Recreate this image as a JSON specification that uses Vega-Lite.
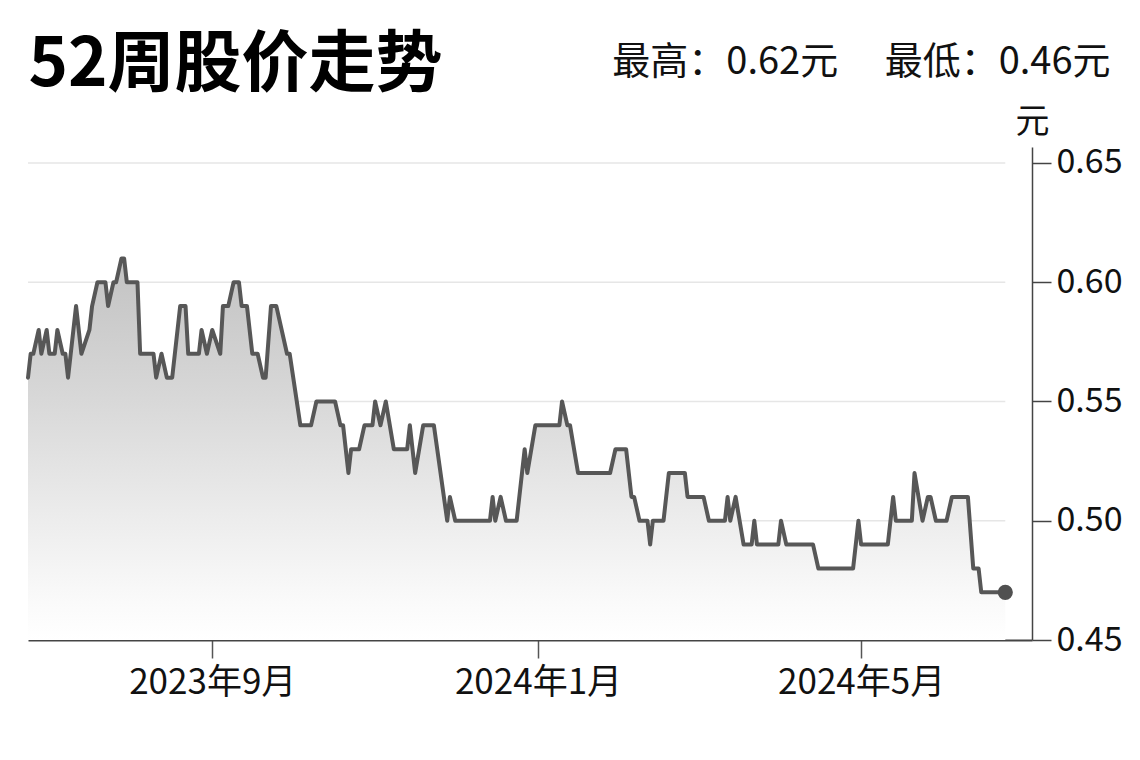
{
  "$schema": "https://vega.github.io/schema/vega-lite/v6.json",
  "width": 1004,
  "height": 493,
  "autosize": {"type": "none"},
  "padding": {"left": 28, "top": 147, "right": 108, "bottom": 120},
  "background": "#ffffff",
  "config": {"view": {"stroke": null}, "font": "Noto Sans CJK SC"},
  "data": {"values": [
    {"date": "2023-06-24", "price": 0.56},
    {"date": "2023-06-25", "price": 0.57},
    {"date": "2023-06-26", "price": 0.57},
    {"date": "2023-06-28", "price": 0.58},
    {"date": "2023-06-29", "price": 0.57},
    {"date": "2023-07-01", "price": 0.58},
    {"date": "2023-07-02", "price": 0.57},
    {"date": "2023-07-04", "price": 0.57},
    {"date": "2023-07-05", "price": 0.58},
    {"date": "2023-07-07", "price": 0.57},
    {"date": "2023-07-08", "price": 0.57},
    {"date": "2023-07-09", "price": 0.56},
    {"date": "2023-07-12", "price": 0.59},
    {"date": "2023-07-14", "price": 0.57},
    {"date": "2023-07-17", "price": 0.58},
    {"date": "2023-07-18", "price": 0.59},
    {"date": "2023-07-20", "price": 0.60},
    {"date": "2023-07-23", "price": 0.60},
    {"date": "2023-07-24", "price": 0.59},
    {"date": "2023-07-26", "price": 0.60},
    {"date": "2023-07-27", "price": 0.60},
    {"date": "2023-07-29", "price": 0.61},
    {"date": "2023-07-30", "price": 0.61},
    {"date": "2023-07-31", "price": 0.60},
    {"date": "2023-08-04", "price": 0.60},
    {"date": "2023-08-05", "price": 0.57},
    {"date": "2023-08-10", "price": 0.57},
    {"date": "2023-08-11", "price": 0.56},
    {"date": "2023-08-13", "price": 0.57},
    {"date": "2023-08-15", "price": 0.56},
    {"date": "2023-08-17", "price": 0.56},
    {"date": "2023-08-20", "price": 0.59},
    {"date": "2023-08-22", "price": 0.59},
    {"date": "2023-08-23", "price": 0.57},
    {"date": "2023-08-27", "price": 0.57},
    {"date": "2023-08-28", "price": 0.58},
    {"date": "2023-08-30", "price": 0.57},
    {"date": "2023-09-01", "price": 0.58},
    {"date": "2023-09-04", "price": 0.57},
    {"date": "2023-09-05", "price": 0.59},
    {"date": "2023-09-07", "price": 0.59},
    {"date": "2023-09-09", "price": 0.60},
    {"date": "2023-09-11", "price": 0.60},
    {"date": "2023-09-12", "price": 0.59},
    {"date": "2023-09-14", "price": 0.59},
    {"date": "2023-09-16", "price": 0.57},
    {"date": "2023-09-18", "price": 0.57},
    {"date": "2023-09-20", "price": 0.56},
    {"date": "2023-09-21", "price": 0.56},
    {"date": "2023-09-23", "price": 0.59},
    {"date": "2023-09-25", "price": 0.59},
    {"date": "2023-09-29", "price": 0.57},
    {"date": "2023-09-30", "price": 0.57},
    {"date": "2023-10-04", "price": 0.54},
    {"date": "2023-10-08", "price": 0.54},
    {"date": "2023-10-10", "price": 0.55},
    {"date": "2023-10-17", "price": 0.55},
    {"date": "2023-10-19", "price": 0.54},
    {"date": "2023-10-20", "price": 0.54},
    {"date": "2023-10-22", "price": 0.52},
    {"date": "2023-10-23", "price": 0.53},
    {"date": "2023-10-26", "price": 0.53},
    {"date": "2023-10-28", "price": 0.54},
    {"date": "2023-10-31", "price": 0.54},
    {"date": "2023-11-01", "price": 0.55},
    {"date": "2023-11-03", "price": 0.54},
    {"date": "2023-11-05", "price": 0.55},
    {"date": "2023-11-08", "price": 0.53},
    {"date": "2023-11-13", "price": 0.53},
    {"date": "2023-11-14", "price": 0.54},
    {"date": "2023-11-16", "price": 0.52},
    {"date": "2023-11-19", "price": 0.54},
    {"date": "2023-11-23", "price": 0.54},
    {"date": "2023-11-28", "price": 0.50},
    {"date": "2023-11-29", "price": 0.51},
    {"date": "2023-12-01", "price": 0.50},
    {"date": "2023-12-14", "price": 0.50},
    {"date": "2023-12-15", "price": 0.51},
    {"date": "2023-12-16", "price": 0.50},
    {"date": "2023-12-18", "price": 0.51},
    {"date": "2023-12-20", "price": 0.50},
    {"date": "2023-12-24", "price": 0.50},
    {"date": "2023-12-27", "price": 0.53},
    {"date": "2023-12-28", "price": 0.52},
    {"date": "2023-12-31", "price": 0.54},
    {"date": "2024-01-09", "price": 0.54},
    {"date": "2024-01-10", "price": 0.55},
    {"date": "2024-01-12", "price": 0.54},
    {"date": "2024-01-13", "price": 0.54},
    {"date": "2024-01-16", "price": 0.52},
    {"date": "2024-01-28", "price": 0.52},
    {"date": "2024-01-30", "price": 0.53},
    {"date": "2024-02-03", "price": 0.53},
    {"date": "2024-02-05", "price": 0.51},
    {"date": "2024-02-06", "price": 0.51},
    {"date": "2024-02-08", "price": 0.50},
    {"date": "2024-02-11", "price": 0.50},
    {"date": "2024-02-12", "price": 0.49},
    {"date": "2024-02-13", "price": 0.50},
    {"date": "2024-02-17", "price": 0.50},
    {"date": "2024-02-19", "price": 0.52},
    {"date": "2024-02-25", "price": 0.52},
    {"date": "2024-02-26", "price": 0.51},
    {"date": "2024-03-03", "price": 0.51},
    {"date": "2024-03-05", "price": 0.50},
    {"date": "2024-03-11", "price": 0.50},
    {"date": "2024-03-12", "price": 0.51},
    {"date": "2024-03-13", "price": 0.50},
    {"date": "2024-03-15", "price": 0.51},
    {"date": "2024-03-18", "price": 0.49},
    {"date": "2024-03-21", "price": 0.49},
    {"date": "2024-03-22", "price": 0.50},
    {"date": "2024-03-23", "price": 0.49},
    {"date": "2024-03-31", "price": 0.49},
    {"date": "2024-04-01", "price": 0.50},
    {"date": "2024-04-03", "price": 0.49},
    {"date": "2024-04-13", "price": 0.49},
    {"date": "2024-04-15", "price": 0.48},
    {"date": "2024-04-28", "price": 0.48},
    {"date": "2024-04-30", "price": 0.50},
    {"date": "2024-05-01", "price": 0.49},
    {"date": "2024-05-11", "price": 0.49},
    {"date": "2024-05-13", "price": 0.51},
    {"date": "2024-05-14", "price": 0.50},
    {"date": "2024-05-20", "price": 0.50},
    {"date": "2024-05-21", "price": 0.52},
    {"date": "2024-05-24", "price": 0.50},
    {"date": "2024-05-26", "price": 0.51},
    {"date": "2024-05-27", "price": 0.51},
    {"date": "2024-05-29", "price": 0.50},
    {"date": "2024-06-02", "price": 0.50},
    {"date": "2024-06-04", "price": 0.51},
    {"date": "2024-06-10", "price": 0.51},
    {"date": "2024-06-12", "price": 0.48},
    {"date": "2024-06-14", "price": 0.48},
    {"date": "2024-06-15", "price": 0.47},
    {"date": "2024-06-24", "price": 0.47}
  ]},
  "layer": [
    {
      "data": {"values": [{"level": 0.50}, {"level": 0.55}, {"level": 0.60}, {"level": 0.65}]},
      "mark": {"type": "rule", "color": "#e6e6e6", "strokeWidth": 1.5},
      "encoding": {
        "x": {"datum": {"year": 2023, "month": 6, "date": 24, "utc": true}, "type": "temporal", "axis": null},
        "x2": {"datum": {"year": 2024, "month": 6, "date": 24, "utc": true}},
        "y": {"field": "level", "type": "quantitative", "axis": null}
      }
    },
    {
      "mark": {
        "type": "area",
        "color": {
          "gradient": "linear",
          "x1": 0, "y1": 0, "x2": 0, "y2": 1,
          "stops": [
            {"offset": 0, "color": "#c2c2c2"},
            {"offset": 0.37, "color": "#d8d8d8"},
            {"offset": 0.69, "color": "#ededed"},
            {"offset": 0.9, "color": "#fafafa"},
            {"offset": 1, "color": "#ffffff"}
          ]
        }
      },
      "encoding": {
        "x": {"field": "date", "type": "temporal", "axis": null},
        "y": {"field": "price", "type": "quantitative", "axis": null},
        "y2": {"datum": 0.45}
      }
    },
    {
      "mark": {"type": "line", "color": "#575757", "strokeWidth": 4, "strokeJoin": "round", "strokeCap": "round"},
      "encoding": {
        "x": {
          "field": "date", "type": "temporal",
          "scale": {"type": "utc", "domain": [{"year": 2023, "month": 6, "date": 24, "utc": true}, {"year": 2024, "month": 7, "date": 4, "utc": true}]},
          "axis": {
            "orient": "bottom",
            "title": null,
            "values": [{"year": 2023, "month": 9, "date": 1, "utc": true}, {"year": 2024, "month": 1, "date": 1, "utc": true}, {"year": 2024, "month": 5, "date": 1, "utc": true}],
            "format": "%Y年%-m月",
            "labelFont": "Noto Sans CJK SC",
            "labelFontSize": 35,
            "labelColor": "#111111",
            "labelPadding": 7,
            "labelFlush": false,
            "tickSize": 18,
            "tickColor": "#555555",
            "tickWidth": 1.5,
            "domainColor": "#444444",
            "domainWidth": 2,
            "grid": false
          }
        },
        "y": {
          "field": "price", "type": "quantitative",
          "scale": {"domain": [0.45, 0.6567], "nice": false, "zero": false},
          "axis": {
            "orient": "right",
            "values": [0.45, 0.5, 0.55, 0.6, 0.65],
            "format": ".2f",
            "labelFont": "Noto Sans CJK SC",
            "labelFontSize": 34,
            "labelColor": "#111111",
            "labelPadding": 5,
            "tickSize": 19,
            "tickColor": "#444444",
            "tickWidth": 1.5,
            "domainColor": "#444444",
            "domainWidth": 1.5,
            "grid": false,
            "title": "元",
            "titleFont": "Noto Sans CJK SC",
            "titleFontSize": 34,
            "titleFontWeight": "normal",
            "titleColor": "#111111",
            "titleAngle": 0,
            "titleX": 0,
            "titleY": -15,
            "titleAlign": "center",
            "titleBaseline": "alphabetic"
          }
        }
      }
    },
    {
      "transform": [
        {"window": [{"op": "row_number", "as": "rn"}], "sort": [{"field": "date", "order": "descending"}]},
        {"filter": "datum.rn == 1"}
      ],
      "mark": {"type": "point", "filled": true, "color": "#505050", "size": 230, "opacity": 1},
      "encoding": {
        "x": {
          "field": "date", "type": "temporal",
          "axis": {
            "orient": "top",
            "labels": false, "ticks": false, "domain": false, "grid": false,
            "title": "52周股价走势",
            "titleFont": "Noto Sans CJK SC",
            "titleFontSize": 67,
            "titleFontWeight": "bold",
            "titleColor": "#000000",
            "titleX": 0,
            "titleY": -62,
            "titleAlign": "left",
            "titleBaseline": "alphabetic"
          }
        },
        "y": {
          "field": "price", "type": "quantitative",
          "axis": {
            "orient": "left",
            "labels": false, "ticks": false, "domain": false, "grid": false,
            "title": "最高：0.62元　 最低：0.46元",
            "titleFont": "Noto Sans CJK SC",
            "titleFontSize": 38,
            "titleFontWeight": "normal",
            "titleColor": "#111111",
            "titleAngle": 0,
            "titleX": 1082,
            "titleY": -74,
            "titleAlign": "right",
            "titleBaseline": "alphabetic"
          }
        }
      }
    }
  ]
}
